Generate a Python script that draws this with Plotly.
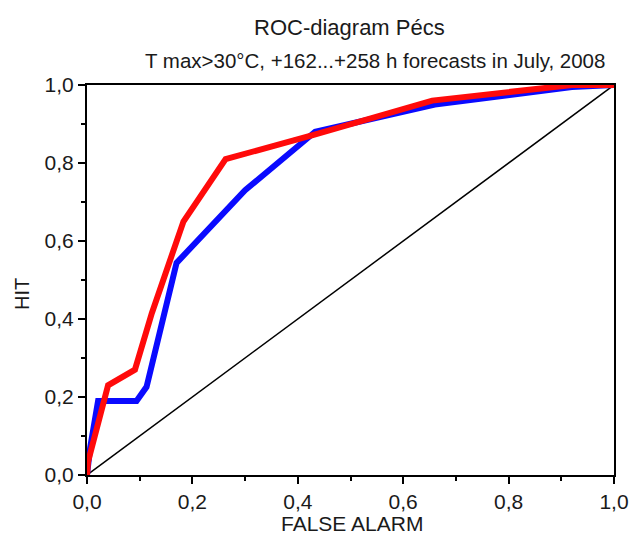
import plotly.graph_objects as go

blue_x = [0.0, 0.006, 0.021, 0.094, 0.113, 0.17, 0.30, 0.433, 0.66, 0.92, 1.0]
blue_y = [0.0, 0.07, 0.19, 0.19, 0.226, 0.544, 0.73, 0.88, 0.95, 0.995, 1.0]
red_x = [0.0, 0.002, 0.04, 0.091, 0.123, 0.183, 0.263, 0.43, 0.655, 0.92, 1.0]
red_y = [0.0, 0.034, 0.23, 0.27, 0.415, 0.65, 0.81, 0.872, 0.96, 1.0, 1.0]
diag_x = [0.0, 1.0]
diag_y = [0.0, 1.0]

title = "ROC-diagram Pécs"
subtitle = "T max>30°C, +162...+258 h forecasts in July, 2008"
x_title = "FALSE ALARM"
y_title = "HIT"
tick_vals = [0.0, 0.2, 0.4, 0.6, 0.8, 1.0]

fig = go.Figure()
fig.add_trace(go.Scatter(x=diag_x, y=diag_y, mode="lines",
                         line=dict(color="black", width=1.5), showlegend=False))
fig.add_trace(go.Scatter(x=blue_x, y=blue_y, mode="lines",
                         line=dict(color="#0a0aff", width=6), showlegend=False))
fig.add_trace(go.Scatter(x=red_x, y=red_y, mode="lines",
                         line=dict(color="#ff0a0a", width=6), showlegend=False))

font = "Liberation Sans, Arial, sans-serif"
txt = "#1a1a1a"
axis_common = dict(
    range=[0, 1], tickvals=tick_vals, tickformat=".1f",
    ticks="outside", ticklen=7, tickwidth=2, tickcolor="black",
    showline=True, linecolor="black", linewidth=2, mirror=True,
    showgrid=False, zeroline=False, automargin=False,
    tickfont=dict(family=font, size=21, color=txt),
    minor=dict(dtick=0.1, ticks="outside", ticklen=4, tickwidth=2, tickcolor="black", showgrid=False),
)
L, R, T, B = 87, 16, 85, 59
W, H = 630, 534
pw, ph = W - L - R, H - T - B


def px_x(x):
    return (x - L) / pw


def px_y(y):
    return (H - y - B) / ph


fig.update_layout(
    width=W, height=H,
    margin=dict(l=L, r=R, t=T, b=B),
    plot_bgcolor="white", paper_bgcolor="white",
    separators=",.",
    xaxis=dict(**axis_common),
    yaxis=dict(**axis_common),
    annotations=[
        dict(text=title, x=px_x(349), y=px_y(27), xref="paper", yref="paper", showarrow=False,
             xanchor="center", yanchor="middle", font=dict(family=font, size=22, color=txt)),
        dict(text=subtitle, x=px_x(375), y=px_y(60), xref="paper", yref="paper", showarrow=False,
             xanchor="center", yanchor="middle", font=dict(family=font, size=20.5, color=txt)),
        dict(text=x_title, x=px_x(352), y=px_y(523), xref="paper", yref="paper", showarrow=False,
             xanchor="center", yanchor="middle", font=dict(family=font, size=21, color=txt)),
        dict(text=y_title, x=px_x(22), y=px_y(294), xref="paper", yref="paper", showarrow=False,
             textangle=-90, xanchor="center", yanchor="middle",
             font=dict(family=font, size=20, color=txt)),
    ],
)

fig.write_html("out.html")
